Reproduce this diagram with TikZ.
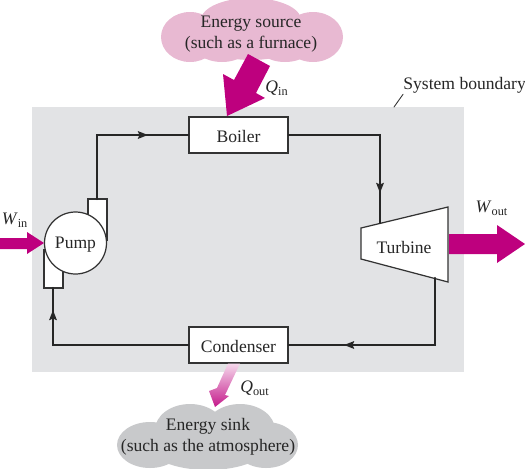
\documentclass[tikz,border=0pt]{standalone}
\usepackage{fontspec}
\setmainfont{Liberation Serif}
\usepackage{tikz}
\usetikzlibrary{arrows.meta}
\definecolor{boundgray}{HTML}{E2E3E5}
\definecolor{sourcepink}{HTML}{E8B9D2}
\definecolor{sinkgray}{HTML}{C8C9CB}
\definecolor{heatmag}{HTML}{BE007E}
\newcommand{\qty}[2]{\textit{#1}\textsubscript{#2}}
\tikzset{
  box/.style={draw=black!80,fill=white,line width=0.7pt,minimum width=1.98cm,minimum height=0.72cm,inner sep=0pt,text height=9.5pt,text depth=1pt},
  flow/.style={draw=black!85,line width=1.25pt},
  part/.style={draw=black!80,fill=white,line width=0.7pt},
  label/.style={inner sep=0pt,align=center}
}
\begin{document}
\begin{tikzpicture}[x=0.2mm,y=-0.2mm,>={Stealth[length=2mm,width=1.5mm,inset=0.3mm]},font=\fontsize{10}{12}\selectfont,text=black!85,line cap=round]
\useasboundingbox (0,0) rectangle (525,468);
\fill[boundgray] (32,107) rectangle (464,372);
% clouds
\begin{scope}
\clip (0,0) rectangle (525,468);
\fill[sourcepink] (190,37) ellipse (29 and 25);
\fill[sourcepink] (222,42) ellipse (30 and 20);
\fill[sourcepink] (251,20) ellipse (50 and 22);
\fill[sourcepink] (251,40) ellipse (50 and 20);
\fill[sourcepink] (285,42) ellipse (30 and 20);
\fill[sourcepink] (313,37) ellipse (30 and 25);
\fill[sinkgray] (150,445) ellipse (33 and 23);
\fill[sinkgray] (190,430) ellipse (35 and 26);
\fill[sinkgray] (240,430) ellipse (35 and 26);
\fill[sinkgray] (266,445) ellipse (32 and 23);
\fill[sinkgray] (208,445) ellipse (60 and 25);
\end{scope}
% parts
\node[box] (boiler) at (238.5,135) {Boiler};
\node[box] (condenser) at (238.5,345) {Condenser};
\draw[part] (44,250) rectangle (63,288);
\draw[part] (88,199) rectangle (107,240);
\node[draw=black!80,fill=white,line width=0.7pt,circle,minimum size=1.24cm,inner sep=0pt,text height=8pt,text depth=1.2pt] (pump) at (75.5,243) {Pump};
\draw[part] (361,228) -- (448,207) -- (448,282) -- (361,259) -- cycle;
\node[label] (turbine) at (404,247) {Turbine};
\coordinate (pumpin) at (53,288);
\coordinate (pumpout) at (97,199);
\coordinate (corner) at (97,135);
\coordinate (turbin) at (380,223);
\coordinate (turbout) at (435,278);
\coordinate (corner2) at (435,345);
\coordinate (corner3) at (53,345);
% connectors
\draw[flow] (pumpout) -- (corner) -- (boiler.west);
\draw[flow,->] (corner) -- (148,135);
\draw[flow] (boiler.east) -| (turbin);
\draw[flow,->] (380,135) -- (380,193);
\draw[flow] (turbout) -- (corner2) -- (condenser.east);
\draw[flow,->] (corner2) -- (344,345);
\draw[flow] (condenser.west) -- (corner3) -- (pumpin);
\draw[flow,->] (corner3) -- (53,310);
% energy arrows
\fill[heatmag] (248,54) -- (270,66) -- (256,93) -- (265,98) -- (227,116) -- (223,74) -- (234,80) -- cycle;
\fill[heatmag] (0,238) -- (27,238) -- (27,232) -- (44,243) -- (27,254) -- (27,249) -- (0,249) -- cycle;
\fill[heatmag] (449,234) -- (497,234) -- (497,225) -- (525,244) -- (497,263) -- (497,254) -- (449,254) -- cycle;
\shade[top color=white!85!heatmag,bottom color=heatmag!90] (228,363.5) -- (240,363.5) -- (225,395) -- (229,396) -- (215,407) -- (209,391) -- (217,388) -- cycle;
% labels
\node[label] (source) at (251,34) {Energy source\\(such as a furnace)};
\node[label] (sink) at (208,437) {Energy sink\\(such as the atmosphere)};
\node[label] (qin) at (277,88) {\qty{Q}{in}};
\node[label] (qout) at (255,388) {\qty{Q}{out}};
\node[label] (win) at (15,220) {\qty{W}{in}};
\node[label] (wout) at (492,208) {\qty{W}{out}};
\node[label,anchor=west] (boundary) at (403,85) {System boundary};
\draw[black!80,line width=0.5pt] (boundary.south west) ++(0,1) -- (394,107);
\end{tikzpicture}
\end{document}
